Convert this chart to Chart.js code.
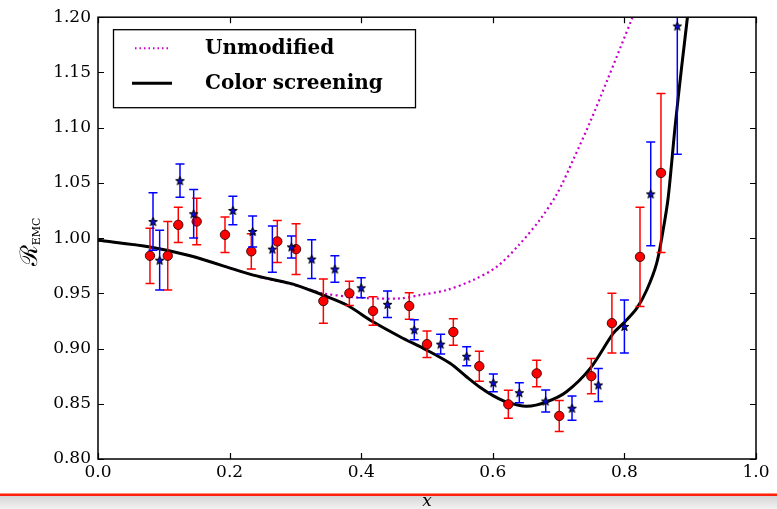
<!DOCTYPE html>
<html>
<head>
<meta charset="utf-8">
<script src="https://cdn.jsdelivr.net/npm/chart.js@4/dist/chart.umd.min.js"></script>
<style>
  html, body { margin: 0; padding: 0; background: #fff; }
  canvas { display: block; }
</style>
</head>
<body>
<canvas id="emc" width="777" height="509"></canvas>
<script>
// EMC ratio versus x: two model curves plus two measured data sets with error bars.

const xTicks = [0.0, 0.2, 0.4, 0.6, 0.8, 1.0];
const yTicks = [0.80, 0.85, 0.90, 0.95, 1.00, 1.05, 1.10, 1.15, 1.20];

// "Color screening" model curve
const screeningX = [0.000, 0.079, 0.140, 0.236, 0.292, 0.322, 0.342, 0.378, 0.418, 0.459, 0.4995, 0.535, 0.560,
                    0.5805, 0.601, 0.6236, 0.6515, 0.682, 0.712, 0.748, 0.783, 0.7984, 0.8187, 0.834, 0.849,
                    0.859, 0.8667, 0.877, 0.887, 0.8956, 0.902];
const screeningY = [0.998, 0.992, 0.984, 0.9665, 0.959, 0.953, 0.9484, 0.9394, 0.9242, 0.9107, 0.8986, 0.8866, 0.8745,
                    0.865, 0.8572, 0.851, 0.8478, 0.8518, 0.8609, 0.882, 0.9137, 0.9228, 0.9364, 0.953, 0.9771,
                    1.0077, 1.0374, 1.1007, 1.155, 1.1988, 1.235];

// "Unmodified" model curve
const unmodifiedX = [0.000, 0.079, 0.140, 0.236, 0.292, 0.307, 0.342, 0.383, 0.418, 0.459, 0.489, 0.530, 0.570,
                     0.606, 0.640, 0.672, 0.698, 0.722, 0.748, 0.774, 0.811, 0.825];
const unmodifiedY = [0.998, 0.992, 0.984, 0.9665, 0.9585, 0.956, 0.950, 0.9469, 0.9454, 0.9454, 0.9484, 0.953, 0.962,
                     0.974, 0.994, 1.017, 1.0405, 1.0706, 1.1053, 1.143, 1.198, 1.22];

// Measurements, set A (red circles)
const setAX   = [0.079, 0.106, 0.122, 0.150, 0.193, 0.233, 0.2725, 0.301, 0.3425, 0.382, 0.418, 0.473, 0.500,
                 0.540, 0.5795, 0.6236, 0.6667, 0.701, 0.7497, 0.781, 0.8237, 0.8556];
const setAY   = [0.984, 0.984, 1.012, 1.015, 1.003, 0.988, 0.997, 0.990, 0.943, 0.950, 0.934, 0.9385, 0.904,
                 0.915, 0.884, 0.8495, 0.8775, 0.839, 0.875, 0.923, 0.983, 1.059];
const setAErr = [0.025, 0.031, 0.016, 0.021, 0.016, 0.016, 0.019, 0.023, 0.020, 0.011, 0.013, 0.012, 0.012,
                 0.012, 0.0135, 0.0127, 0.012, 0.014, 0.016, 0.027, 0.045, 0.072];

// Measurements, set B (stars)
const setBX   = [0.0836, 0.0937, 0.1246, 0.1454, 0.205, 0.235, 0.265, 0.294, 0.3248, 0.360, 0.400, 0.440, 0.4807,
                 0.5208, 0.5603, 0.6008, 0.6403, 0.6804, 0.7204, 0.7604, 0.800, 0.840, 0.8804];
const setBY   = [1.015, 0.980, 1.052, 1.022, 1.025, 1.006, 0.990, 0.992, 0.981, 0.972, 0.955, 0.940, 0.917,
                 0.904, 0.893, 0.869, 0.860, 0.8525, 0.846, 0.867, 0.920, 1.040, 1.192];
const setBErr = [0.026, 0.027, 0.015, 0.022, 0.013, 0.014, 0.021, 0.010, 0.0175, 0.012, 0.009, 0.012, 0.009,
                 0.009, 0.0086, 0.008, 0.009, 0.010, 0.011, 0.015, 0.024, 0.047, 0.116];

const toPoints = (xs, ys) => xs.map((x, i) => ({ x: x, y: ys[i] }));

const SERIF = "'DejaVu Serif', 'Liberation Serif', serif";

// Five-pointed star marker
function starMarker() {
  const c = document.createElement('canvas');
  c.width = 11; c.height = 11;
  const g = c.getContext('2d');
  g.beginPath();
  for (let k = 0; k < 10; k++) {
    const r = (k % 2) ? 1.9 : 4.6;
    const a = -Math.PI / 2 + k * Math.PI / 5;
    g.lineTo(5.5 + r * Math.cos(a), 5.9 + r * Math.sin(a));
  }
  g.closePath();
  g.fillStyle = '#0b0bd8';
  g.fill();
  g.strokeStyle = '#000';
  g.lineWidth = 1;
  g.stroke();
  return c;
}

// Vertical error bars with caps, drawn just beneath each marker set
const errorBarPlugin = {
  id: 'errorBars',
  beforeDatasetDraw(chart, args) {
    const ds = chart.data.datasets[args.index];
    if (!ds.errors) return;
    const { ctx, chartArea: a } = chart;
    const xs = chart.scales.x, ys = chart.scales.y;
    ctx.save();
    ctx.beginPath();
    ctx.rect(a.left, a.top, a.right - a.left, a.bottom - a.top);
    ctx.clip();
    ctx.strokeStyle = ds.errorColor;
    ctx.lineWidth = 1.5;
    ds.data.forEach((p, i) => {
      const e = ds.errors[i];
      const px = xs.getPixelForValue(p.x);
      const t = ys.getPixelForValue(p.y + e);
      const b = ys.getPixelForValue(p.y - e);
      ctx.beginPath();
      ctx.moveTo(px, t); ctx.lineTo(px, b);
      ctx.moveTo(px - 4.5, t); ctx.lineTo(px + 4.5, t);
      ctx.moveTo(px - 4.5, b); ctx.lineTo(px + 4.5, b);
      ctx.stroke();
    });
    ctx.restore();
  }
};

// Box frame with inward ticks on all four sides
const framePlugin = {
  id: 'frame',
  afterDatasetsDraw(chart) {
    const { ctx, chartArea: a } = chart;
    const xs = chart.scales.x, ys = chart.scales.y;
    const len = 6;
    ctx.save();
    ctx.strokeStyle = '#000';
    ctx.lineWidth = 1.2;
    ctx.beginPath();
    xs.ticks.forEach(t => {
      const px = Math.round(xs.getPixelForValue(t.value)) + 0.5;
      ctx.moveTo(px, a.bottom); ctx.lineTo(px, a.bottom - len);
      ctx.moveTo(px, a.top); ctx.lineTo(px, a.top + len);
    });
    ys.ticks.forEach(t => {
      const py = Math.round(ys.getPixelForValue(t.value)) + 0.5;
      ctx.moveTo(a.left, py); ctx.lineTo(a.left + len, py);
      ctx.moveTo(a.right, py); ctx.lineTo(a.right - len, py);
    });
    ctx.stroke();
    ctx.lineWidth = 1.5;
    ctx.strokeRect(a.left, a.top, a.right - a.left, a.bottom - a.top);
    ctx.restore();
  }
};

// Legend box in the upper left of the plot
const legendPlugin = {
  id: 'boxLegend',
  afterDraw(chart) {
    const { ctx, chartArea: a } = chart;
    const bx = a.left + 15, by = a.top + 12, bw = 302, bh = 78;
    ctx.save();
    ctx.fillStyle = '#fff';
    ctx.fillRect(bx, by, bw, bh);
    ctx.strokeStyle = '#000';
    ctx.lineWidth = 1.3;
    ctx.strokeRect(bx + 0.5, by + 0.5, bw, bh);
    const entries = chart.data.datasets.filter(d => d.legendText);
    entries.forEach((d, i) => {
      const cy = by + 19 + i * 35;
      ctx.save();
      ctx.strokeStyle = d.borderColor;
      ctx.lineWidth = d.legendLineWidth;
      ctx.setLineDash(d.legendDash || []);
      ctx.beginPath();
      ctx.moveTo(bx + d.legendFrom, cy); ctx.lineTo(bx + d.legendTo, cy);
      ctx.stroke();
      ctx.restore();
      ctx.fillStyle = '#000';
      ctx.font = 'bold 20px ' + SERIF;
      ctx.textBaseline = 'middle';
      ctx.textAlign = 'left';
      ctx.fillText(d.legendText, bx + 92, cy + 1);
    });
    ctx.restore();
  }
};

// Axis titles and the rule along the bottom edge
const titlesPlugin = {
  id: 'titles',
  beforeDraw(chart) {
    const { ctx, width } = chart;
    ctx.save();
    const g = ctx.createLinearGradient(0, 496, 0, 509);
    g.addColorStop(0, '#d6d6d6');
    g.addColorStop(1, '#f2f2f2');
    ctx.fillStyle = g;
    ctx.fillRect(0, 496, width, 13);
    ctx.fillStyle = '#ff9070';
    ctx.fillRect(0, 493, width, 1);
    ctx.fillStyle = '#ff1f0f';
    ctx.fillRect(0, 494, width, 2);
    ctx.restore();
  },
  afterDraw(chart) {
    const { ctx, chartArea: a } = chart;
    ctx.save();
    ctx.fillStyle = '#000';
    ctx.textBaseline = 'alphabetic';
    ctx.textAlign = 'center';
    ctx.font = 'italic 17px ' + SERIF;
    ctx.fillText('x', (a.left + a.right) / 2, 506);

    ctx.translate(37, 242);
    ctx.rotate(-Math.PI / 2);
    ctx.textAlign = 'left';
    ctx.font = '24px ' + SERIF;
    const r = 'ℛ';
    const rw = ctx.measureText(r).width;
    ctx.font = '11px ' + SERIF;
    const sw = ctx.measureText('EMC').width;
    const x0 = -(rw + sw) / 2;
    ctx.font = '24px ' + SERIF;
    ctx.fillText(r, x0, 0);
    ctx.font = '11px ' + SERIF;
    ctx.fillText('EMC', x0 + rw, 3);
    ctx.restore();
  }
};

new Chart(document.getElementById('emc'), {
  type: 'scatter',
  data: {
    datasets: [
      {
        label: 'Unmodified',
        legendText: 'Unmodified',
        legendLineWidth: 2,
        legendDash: [1.5, 3],
        legendFrom: 22,
        legendTo: 56,
        data: toPoints(unmodifiedX, unmodifiedY),
        showLine: true,
        borderColor: '#c800c8',
        borderWidth: 2.2,
        borderDash: [2, 3.2],
        pointRadius: 0,
        tension: 0.3,
        order: 4
      },
      {
        label: 'Color screening',
        legendText: 'Color screening',
        legendLineWidth: 3,
        legendFrom: 19,
        legendTo: 59,
        data: toPoints(screeningX, screeningY),
        showLine: true,
        borderColor: '#000',
        borderWidth: 3,
        pointRadius: 0,
        tension: 0.3,
        order: 3
      },
      {
        label: 'Set A',
        data: toPoints(setAX, setAY),
        errors: setAErr,
        errorColor: '#ff0000',
        pointStyle: 'circle',
        pointRadius: 4.7,
        backgroundColor: '#ff0000',
        borderColor: '#3a0000',
        borderWidth: 0.9,
        order: 2
      },
      {
        label: 'Set B',
        data: toPoints(setBX, setBY),
        errors: setBErr,
        errorColor: '#0000ff',
        pointStyle: starMarker(),
        pointRadius: 5,
        backgroundColor: '#0b0bd8',
        borderColor: '#000',
        order: 1
      }
    ]
  },
  options: {
    responsive: false,
    animation: false,
    devicePixelRatio: 1,
    layout: { padding: { left: 0, right: 21, top: 17, bottom: 0 } },
    plugins: { legend: { display: false }, tooltip: { enabled: false } },
    scales: {
      x: {
        type: 'linear',
        min: 0, max: 1,
        afterBuildTicks: s => { s.ticks = xTicks.map(v => ({ value: v })); },
        afterFit: s => { s.height = 50; },
        grid: { display: false, drawTicks: false },
        border: { display: false },
        ticks: {
          padding: 3,
          color: '#000',
          font: { family: SERIF, size: 17 },
          callback: v => Number(v).toFixed(1)
        }
      },
      y: {
        type: 'linear',
        min: 0.8, max: 1.2,
        afterBuildTicks: s => { s.ticks = yTicks.map(v => ({ value: v })); },
        afterFit: s => { s.width = 98; },
        grid: { display: false, drawTicks: false },
        border: { display: false },
        ticks: {
          padding: 7,
          color: '#000',
          font: { family: SERIF, size: 17 },
          callback: v => Number(v).toFixed(2)
        }
      }
    }
  },
  plugins: [errorBarPlugin, framePlugin, legendPlugin, titlesPlugin]
});
</script>
</body>
</html>
